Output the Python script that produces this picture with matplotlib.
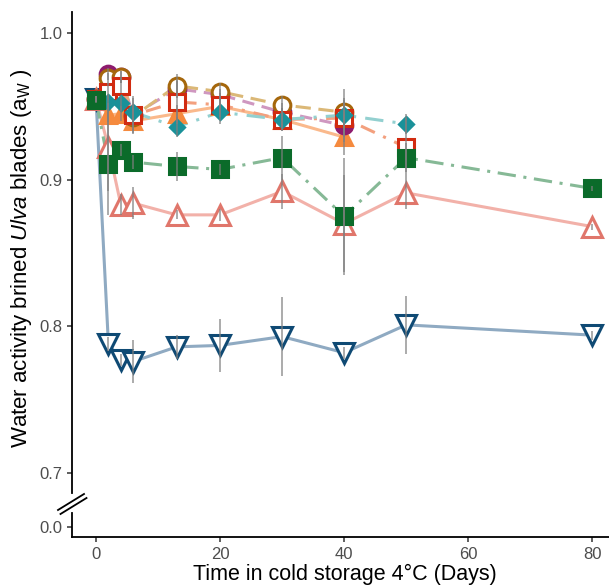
import matplotlib
matplotlib.use("Agg")
import matplotlib.pyplot as plt
from matplotlib.lines import Line2D
import numpy as np

plt.rcParams['font.family'] = ['Liberation Sans', 'DejaVu Sans']
plt.rcParams['mathtext.fontset'] = 'custom'
plt.rcParams['mathtext.rm'] = 'Liberation Sans'
plt.rcParams['mathtext.it'] = 'Liberation Sans:italic'

days_all = [0, 2, 4, 6, 13, 20, 30, 40, 50, 80]
days_40 = [0, 2, 4, 6, 13, 20, 30, 40]
days_50 = [0, 2, 4, 6, 13, 20, 30, 40, 50]

purple = [0.955, 0.972, 0.970, 0.944, 0.962, 0.958, 0.946, 0.937]
purple_err = [0.002, 0.004, 0.004, 0.005, 0.005, 0.004, 0.006, 0.008]
brown = [0.955, 0.969, 0.970, 0.943, 0.964, 0.960, 0.951, 0.946]
brown_err = [0.002, 0.004, 0.004, 0.005, 0.008, 0.006, 0.006, 0.010]
red = [0.955, 0.960, 0.964, 0.944, 0.953, 0.951, 0.941, 0.942, 0.922]
red_err = [0.002, 0.006, 0.005, 0.013, 0.015, 0.008, 0.008, 0.012, 0.020]
orange = [0.955, 0.944, 0.945, 0.940, 0.945, 0.950, 0.941, 0.929]
orange_err = [0.002, 0.005, 0.005, 0.008, 0.006, 0.005, 0.006, 0.012]
teal = [0.955, 0.953, 0.952, 0.946, 0.936, 0.946, 0.941, 0.944, 0.938]
teal_err = [0.002, 0.005, 0.005, 0.010, 0.007, 0.008, 0.008, 0.018, 0.007]
green = [0.954, 0.911, 0.920, 0.912, 0.909, 0.907, 0.915, 0.875, 0.915, 0.894]
green_err = [0.002, 0.035, 0.004, 0.005, 0.010, 0.004, 0.015, 0.040, 0.010, 0.002]
salmon = [0.955, 0.922, 0.883, 0.884, 0.876, 0.876, 0.892, 0.870, 0.891, 0.868]
salmon_err = [0.002, 0.030, 0.007, 0.011, 0.003, 0.004, 0.012, 0.033, 0.011, 0.002]
navy = [0.955, 0.788, 0.777, 0.776, 0.786, 0.787, 0.793, 0.782, 0.801, 0.794]
navy_err = [0.002, 0.005, 0.004, 0.0145, 0.008, 0.018, 0.027, 0.004, 0.020, 0.003]

xticks = [0, 20, 40, 60, 80]
yticks = [0.7, 0.8, 0.9, 1.0]

W, H = 609, 587
fig = plt.figure(figsize=(W / 100, H / 100), dpi=100)

def fx(px):
    return px / W

def fy(py):
    return 1 - py / H

ax = fig.add_axes([fx(72), fy(493), fx(609) - fx(72), fy(12) - fy(493)])
axb = fig.add_axes([fx(72), fy(537), fx(609) - fx(72), fy(513) - fy(537)])

series = [
    # x, y, err, marker, ms, face, edge, linecolor, linestyle
    (days_all, navy, navy_err, 'v', 14, 'white', '#0f4a74', '#8faac2', '-'),
    (days_all, salmon, salmon_err, '^', 14, 'white', '#e0766b', '#f2b1a9', '-'),
    (days_40, orange, orange_err, '^', 12, '#f58a3e', '#f58a3e', '#fab98c', '-'),
    (days_40, purple, purple_err, 'o', 12, '#8e1b6e', '#8e1b6e', '#cf97c0', (0, (4, 2.5))),
    (days_40, brown, brown_err, 'o', 12, 'white', '#a5670c', '#dbb877', (0, (5, 2.5))),
    (days_50, red, red_err, 's', 11, 'white', '#d12b10', '#f3a07e', (0, (5, 3, 1, 3))),
    (days_50, teal, teal_err, 'D', 7.5, '#1a9199', '#1a9199', '#93d0d0', (0, (6, 3, 1, 3))),
    (days_all, green, green_err, 's', 11, '#0b6b2a', '#0b6b2a', '#86b996', (0, (6, 2.5, 1, 2.5))),
]

for i, (x, y, e, m, ms, fc, ec, lc, ls) in enumerate(series):
    ax.plot(x, y, color=lc, lw=2.2, ls=ls, zorder=2 + i * 0.01, clip_on=False)
for i, (x, y, e, m, ms, fc, ec, lc, ls) in enumerate(series):
    ax.plot(x, y, ls='none', marker=m, ms=ms, mfc=fc, mec=ec, mew=2.2,
            zorder=3 + i * 0.1, clip_on=False)
for i, (x, y, e, m, ms, fc, ec, lc, ls) in enumerate(series):
    ax.errorbar(x, y, yerr=e, fmt='none', ecolor='#7f7f7f', elinewidth=1.4,
                alpha=0.65, capsize=0, zorder=5)

xmin, xmax = -3.87, 82.7
for a in (ax, axb):
    a.set_xlim(xmin, xmax)
    a.spines['top'].set_visible(False)
    a.spines['right'].set_visible(False)
    a.spines['left'].set_linewidth(1.3)
    a.spines['bottom'].set_linewidth(1.3)
    a.tick_params(axis='both', colors='#333333', labelcolor='#4d4d4d',
                  labelsize=12, length=3.5, width=1.1)
    a.set_facecolor('none')

ax.set_ylim(0.7 - 20 / 1467, 1.0 + 21 / 1467)
ax.set_yticks(yticks)
ax.set_yticklabels([f"{v:.1f}" for v in yticks])
ax.spines['bottom'].set_visible(False)
ax.set_xticks([])

axb.set_ylim(-10 / 1467, 14 / 1467)
axb.set_yticks([0.0])
axb.set_yticklabels(["0.0"])
axb.set_xticks(xticks)
axb.set_xticklabels([str(v) for v in xticks])

# break marks
for dx, dy in [(0, 0), (2.5, 4)]:
    fig.add_artist(Line2D([fx(58 + dx), fx(84 + dx)], [fy(510 + dy), fy(494 + dy)],
                          color='black', lw=1.3))

fig.text(fx(345), fy(574), "Time in cold storage 4°C (Days)", ha='center', va='center',
         fontsize=15.5, color='black')
fig.text(fx(22), fy(258), r"Water activity brined $\mathit{Ulva}$ blades (a$_\mathrm{W}$ )",
         ha='center', va='center', rotation=90, fontsize=16, color='black')

fig.savefig("out.png", dpi=100)
